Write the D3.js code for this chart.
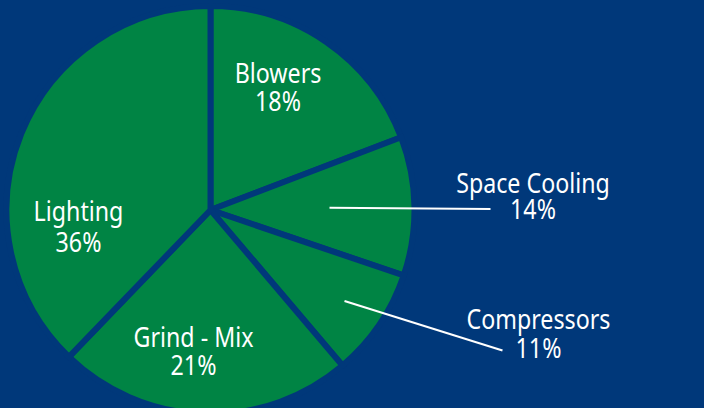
<!DOCTYPE html>
<html>
<head>
<meta charset="utf-8">
<script src="https://cdn.jsdelivr.net/npm/d3@7"></script>
<style>
  html, body { margin: 0; padding: 0; background: #00387a; }
  svg { display: block; }
  text { font-family: "Noto Sans", "Open Sans", sans-serif; fill: #ffffff; }
</style>
</head>
<body>
<svg id="chart" width="704" height="408"></svg>
<script>
// ---- data ----
const categories = ["Blowers", "Space Cooling", "Compressors", "Grind - Mix", "Lighting"];
const pctLabels  = ["18%", "14%", "11%", "21%", "36%"];       // printed shares
const sliceShare = [19.2, 11.0, 8.6, 23.4, 37.8];             // slice sizes as drawn in the picture

// ---- layout / style ----
const W = 704, H = 408;
const cx = 210.5, cy = 210, R = 201;
const bg = "#00387a", green = "#008444", gap = 6;
const fontSize = 27, squeeze = 0.86;

// label anchors (centre x, first baseline y, second baseline y) and optional leader line
const labelLayout = [
  { x: 278, y1: 83,  y2: 111 },
  { x: 533, y1: 193, y2: 219, leader: { r: 119, to: [490.5, 209] } },
  { x: 538.5, y1: 329, y2: 358, leader: { r: 162, to: [502.5, 350.5] } },
  { x: 193.5, y1: 347, y2: 375 },
  { x: 78.5, y1: 221, y2: 252 }
];

const svg = d3.select("#chart");
svg.append("rect").attr("width", W).attr("height", H).attr("fill", bg);

const pie = d3.pie().sort(null).value(d => d.v).startAngle(0).endAngle(2 * Math.PI);
const arcs = pie(categories.map((c, i) => ({ c, v: sliceShare[i], p: pctLabels[i] })));
const arc = d3.arc().innerRadius(0).outerRadius(R + gap / 2);

const g = svg.append("g").attr("transform", `translate(${cx},${cy})`);
g.selectAll("path.slice").data(arcs).join("path")
  .attr("class", "slice")
  .attr("d", arc)
  .attr("fill", green)
  .attr("stroke", bg)
  .attr("stroke-width", gap)
  .attr("stroke-linejoin", "miter");

// leader lines
arcs.forEach((a, i) => {
  const L = labelLayout[i].leader;
  if (!L) return;
  const mid = (a.startAngle + a.endAngle) / 2;
  const x0 = cx + L.r * Math.sin(mid), y0 = cy - L.r * Math.cos(mid);
  svg.append("line")
    .attr("x1", x0).attr("y1", y0)
    .attr("x2", L.to[0]).attr("y2", L.to[1])
    .attr("stroke", "#ffffff").attr("stroke-width", 2);
});

// labels: one text element per slice, two lines as tspans
arcs.forEach((a, i) => {
  const lay = labelLayout[i];
  const t = svg.append("text")
    .attr("transform", `translate(${lay.x},${lay.y1}) scale(${squeeze},1)`)
    .attr("text-anchor", "middle")
    .attr("font-size", fontSize);
  t.append("tspan").attr("x", 0).attr("y", 0).text(a.data.c);
  t.append("tspan").attr("x", 0).attr("y", lay.y2 - lay.y1).text(a.data.p);
});
</script>
</body>
</html>
